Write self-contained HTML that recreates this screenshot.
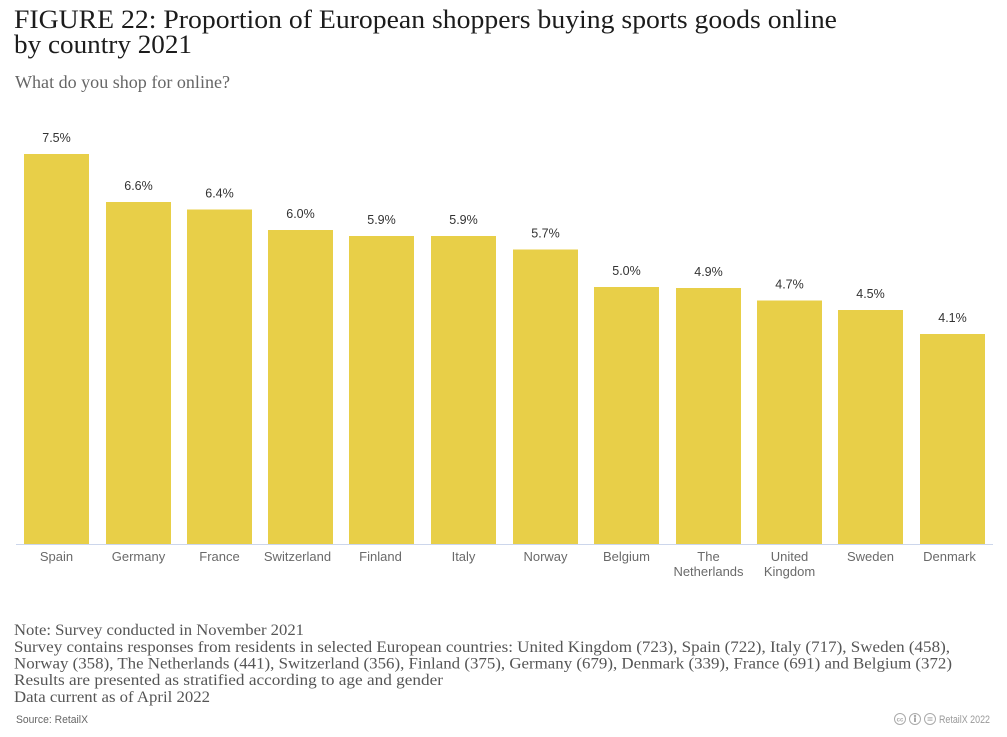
<!DOCTYPE html>
<html>
<head>
<meta charset="utf-8">
<style>
html,body{margin:0;padding:0;background:#fff;}
svg{display:block;}
.t{font-family:"Liberation Serif","DejaVu Serif",serif;}
.s{font-family:"Liberation Sans","DejaVu Sans",sans-serif;}
</style>
</head>
<body>
<svg width="1007" height="737" viewBox="0 0 1007 737" xmlns="http://www.w3.org/2000/svg">
<rect width="1007" height="737" fill="#fff"/>
<!-- Title -->
<text class="t" x="14" y="28" font-size="26" fill="#1c1c1c" textLength="823" lengthAdjust="spacingAndGlyphs">FIGURE 22: Proportion of European shoppers buying sports goods online</text>
<text class="t" x="14" y="53" font-size="26" fill="#1c1c1c" textLength="178" lengthAdjust="spacingAndGlyphs">by country 2021</text>
<text class="t" x="15" y="88" font-size="18" fill="#666" textLength="215" lengthAdjust="spacingAndGlyphs">What do you shop for online?</text>

<!-- Bars -->
<g fill="#e8cf48">
<rect x="24" y="154" width="65" height="390"/>
<rect x="106" y="202" width="65" height="342"/>
<rect x="187" y="209.5" width="65" height="334.5"/>
<rect x="268" y="230" width="65" height="314"/>
<rect x="349" y="236" width="65" height="308"/>
<rect x="431" y="236" width="65" height="308"/>
<rect x="513" y="249.5" width="65" height="294.5"/>
<rect x="594" y="287" width="65" height="257"/>
<rect x="676" y="288" width="65" height="256"/>
<rect x="757" y="300.5" width="65" height="243.5"/>
<rect x="838" y="310" width="65" height="234"/>
<rect x="920" y="334" width="65" height="210"/>
</g>
<line x1="16" y1="544.5" x2="993" y2="544.5" stroke="#ccd6eb" stroke-width="1"/>

<!-- Value labels -->
<g class="s" font-size="12.5" fill="#333" text-anchor="middle">
<text x="56.5" y="142">7.5%</text>
<text x="138.5" y="190">6.6%</text>
<text x="219.5" y="197.5">6.4%</text>
<text x="300.5" y="218">6.0%</text>
<text x="381.5" y="224">5.9%</text>
<text x="463.5" y="224">5.9%</text>
<text x="545.5" y="237.5">5.7%</text>
<text x="626.5" y="275">5.0%</text>
<text x="708.5" y="276">4.9%</text>
<text x="789.5" y="288.5">4.7%</text>
<text x="870.5" y="298">4.5%</text>
<text x="952.5" y="322">4.1%</text>
</g>

<!-- Category labels -->
<g class="s" font-size="13" fill="#6a6a6a" text-anchor="middle">
<text x="56.5" y="561">Spain</text>
<text x="138.5" y="561">Germany</text>
<text x="219.5" y="561">France</text>
<text x="297.5" y="561">Switzerland</text>
<text x="380.5" y="561">Finland</text>
<text x="463.5" y="561">Italy</text>
<text x="545.5" y="561">Norway</text>
<text x="626.5" y="561">Belgium</text>
<text x="708.5" y="561">The</text>
<text x="708.5" y="576">Netherlands</text>
<text x="789.5" y="561">United</text>
<text x="789.5" y="576">Kingdom</text>
<text x="870.5" y="561">Sweden</text>
<text x="949.5" y="561">Denmark</text>
</g>

<!-- Notes -->
<g class="t" font-size="16" fill="#555">
<text x="14" y="635" textLength="290" lengthAdjust="spacingAndGlyphs">Note: Survey conducted in November 2021</text>
<text x="14" y="652" textLength="936" lengthAdjust="spacingAndGlyphs">Survey contains responses from residents in selected European countries: United Kingdom (723), Spain (722), Italy (717), Sweden (458),</text>
<text x="14" y="668.5" textLength="938" lengthAdjust="spacingAndGlyphs">Norway (358), The Netherlands (441), Switzerland (356), Finland (375), Germany (679), Denmark (339), France (691) and Belgium (372)</text>
<text x="14" y="685" textLength="429" lengthAdjust="spacingAndGlyphs">Results are presented as stratified according to age and gender</text>
<text x="14" y="702" textLength="196" lengthAdjust="spacingAndGlyphs">Data current as of April 2022</text>
</g>

<!-- Source -->
<text class="s" x="16" y="723" font-size="11" fill="#666" textLength="72" lengthAdjust="spacingAndGlyphs">Source: RetailX</text>

<!-- CC icons -->
<g fill="none" stroke="#aaa" stroke-width="1">
<circle cx="900" cy="719" r="5.5"/>
<circle cx="915" cy="719" r="5.5"/>
<circle cx="930" cy="719" r="5.5"/>
</g>
<text class="s" x="900" y="721.5" font-size="6" fill="#aaa" text-anchor="middle" font-weight="bold">cc</text>
<g fill="#aaa">
<circle cx="915" cy="716" r="1.2"/>
<rect x="914" y="717.5" width="2" height="4.5"/>
<rect x="927.5" y="717.3" width="5" height="1.1"/>
<rect x="927.5" y="719.6" width="5" height="1.1"/>
</g>
<text class="s" x="990" y="723" font-size="11" fill="#999" text-anchor="end" textLength="51" lengthAdjust="spacingAndGlyphs">RetailX 2022</text>
</svg>
</body>
</html>
